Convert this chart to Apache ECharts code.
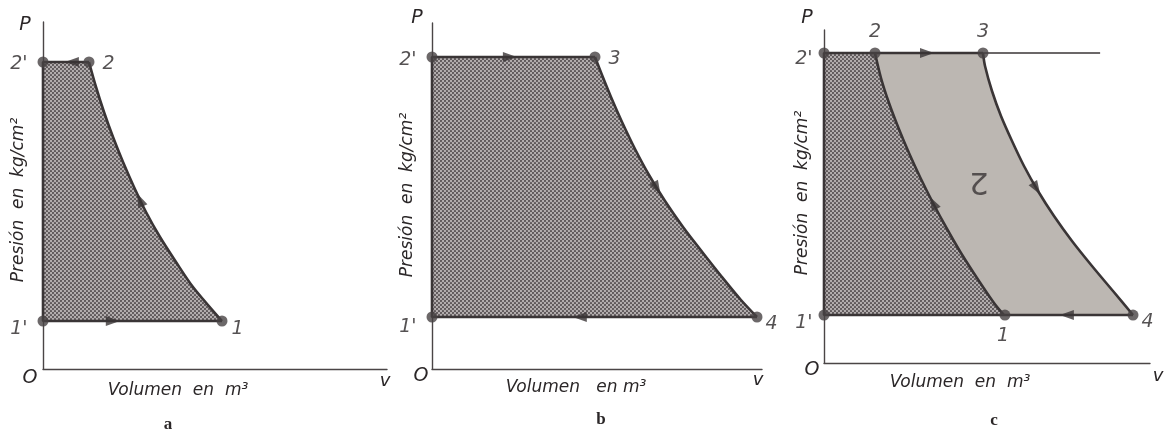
<!DOCTYPE html>
<html><head><meta charset="utf-8">
<script src="https://cdn.jsdelivr.net/npm/echarts@6/dist/echarts.min.js"></script>
<style>html,body{margin:0;padding:0;background:#fff}#c{width:1168px;height:433px}</style>
</head><body><div id="c"></div>
<script>
// ---------- data (arbitrary V / P units, axes 0..10) ----------
// Panel a: compression 1 -> 2
const curveA = [[1.337,8.847],[1.541,8.127],[1.773,7.406],[2.035,6.686],[2.326,5.965],[2.645,5.245],[2.994,4.524],[3.401,3.804],[3.866,3.084],[4.360,2.363],[5.203,1.383]];
const straightA = [[5.203,1.383],[0,1.383],[0,8.847],[1.337,8.847]];
const pointsA = [[0,8.847],[1.337,8.847],[5.203,1.383],[0,1.383]];
const labelsA = ["2'","2","1","1'"];
const arrowsA = [[0.84,8.847,90],[2.82,4.87,24],[2.03,1.383,-90]];

// Panel b: expansion 3 -> 4
const curveB = [[4.939,9.017],[5.152,8.497],[5.424,7.861],[5.758,7.139],[6.152,6.358],[6.576,5.607],[7.061,4.855],[7.606,4.104],[8.212,3.353],[8.788,2.659],[9.364,1.994],[9.848,1.503]];
const straightB = [[4.939,9.017],[0,9.017],[0,1.503],[9.848,1.503]];
const pointsB = [[0,9.017],[4.939,9.017],[9.848,1.503],[0,1.503]];
const labelsB = ["2'","3","4","1'"];
const arrowsB = [[2.36,9.017,-90],[6.82,5.22,210],[4.48,1.503,90]];

// Panel c: combined cycle
const curveC12 = [[1.564,9.309],[1.748,8.559],[1.994,7.808],[2.285,7.057],[2.607,6.306],[2.960,5.556],[3.344,4.805],[3.758,4.054],[4.202,3.303],[4.693,2.553],[5.215,1.802],[5.52,1.441]];
const curveC34 = [[4.877,9.309],[4.939,8.919],[5.153,8.168],[5.429,7.417],[5.767,6.667],[6.135,5.916],[6.564,5.165],[7.055,4.414],[7.607,3.664],[8.221,2.913],[8.865,2.162],[9.479,1.441]];
const straightC = [[4.877,9.309],[0,9.309],[0,1.441],[9.479,1.441]];
const extC = [[4.877,9.309],[8.47,9.309]];
const pointsC = [[0,9.309],[1.564,9.309],[4.877,9.309],[0,1.441],[5.55,1.441],[9.479,1.441]];
const labelsC = ["2'","2","3","1'","1","4"];
const arrowsC = [[3.16,9.309,-90],[6.52,5.24,212],[7.45,1.441,90],[3.344,4.805,28]];
const areaTextC = [[4.75,5.45]];

// ---------- styles ----------
const LINE = '#3a3536', PT = '#474243', TXT = '#2b2728';
const FONT = 'oblique 17px "DejaVu Sans"';
function halftone(){
  const c=document.createElement('canvas'); c.width=4; c.height=4;
  const g=c.getContext('2d');
  g.fillStyle='#b3aeae'; g.fillRect(0,0,4,4);
  g.fillStyle='#5a5456';
  g.beginPath(); g.arc(1,1,1.1,0,Math.PI*2); g.fill();
  g.beginPath(); g.arc(3,3,1.1,0,Math.PI*2); g.fill();
  return c;
}
const DOTS = {image: halftone(), repeat:'repeat'};
const LIGHT = '#bcb7b2';

const grids = [
  {left:43, top:22, width:344, height:347},
  {left:432, top:23, width:330, height:346},
  {left:824, top:30, width:326, height:333}
];
const axisCommon = {type:'value', min:0, max:10, axisTick:{show:false}, axisLabel:{show:false}, splitLine:{show:false},
  axisLine:{show:true, onZero:false, lineStyle:{color:'#4a4546', width:1.4}}};

function polygon(gi, pts, fill){
  return {type:'custom', xAxisIndex:gi, yAxisIndex:gi, z:1, silent:true, data:[0],
    renderItem:(p,api)=>({type:'polygon', shape:{points:pts.map(q=>api.coord(q))}, style:{fill:fill}})};
}
function curve(gi, pts){
  return {type:'custom', xAxisIndex:gi, yAxisIndex:gi, z:3, silent:true, data:[0],
    renderItem:(p,api)=>({type:'polyline', shape:{points:pts.map(q=>api.coord(q)), smooth:0.3},
      style:{stroke:LINE, lineWidth:2.6, fill:null, lineJoin:'round'}})};
}
function line(gi, pts, w){
  return {type:'line', xAxisIndex:gi, yAxisIndex:gi, z:3, data:pts, showSymbol:false,
    lineStyle:{color:LINE, width:w||2.6}, silent:true};
}
function arrows(gi, arr){
  return {type:'scatter', xAxisIndex:gi, yAxisIndex:gi, z:4, silent:true, symbol:'triangle', symbolSize:[10,14],
    itemStyle:{color:LINE},
    data:arr.map(a=>({value:[a[0],a[1]], symbolRotate:a[2]}))};
}
function points(gi, pts, names, posMap){
  return {type:'scatter', xAxisIndex:gi, yAxisIndex:gi, z:5, silent:true, symbolSize:11, itemStyle:{color:PT},
    data:pts.map((p,i)=>{const pm=posMap[names[i]]; return {value:p, label:{show:true, formatter:names[i], position:pm[0], offset:pm[1], distance:pm[2],
      fontSize:19, fontStyle:'oblique', fontFamily:'DejaVu Sans', color:TXT}};})};
}
const posA = {"2'":['left',[-2,2],8],"2":['right',[2,2],6],"1":['right',[0,8],4],"1'":['left',[-2,8],8]};
const posB = {"2'":['left',[-2,3],8],"3":['right',[2,2],6],"4":['right',[0,7],3],"1'":['left',[-2,10],8]};
const posC = {"2'":['left',[0,6],6],"2":['top',[0,-2],4],"3":['top',[0,-2],4],"1'":['left',[0,8],6],"1":['bottom',[-2,2],4],"4":['right',[0,7],3]};

const series = [
  polygon(0, straightA.slice(1).concat(curveA.slice(1)), DOTS),
  line(0, straightA), curve(0, curveA), arrows(0, arrowsA), points(0, pointsA, labelsA, posA),
  polygon(1, straightB.slice(0,3).concat([[9.848,1.503]]).concat(curveB.slice().reverse()), DOTS),
  line(1, straightB), curve(1, curveB), arrows(1, arrowsB), points(1, pointsB, labelsB, posB),
  polygon(2, [[0,1.441],[0,9.309]].concat(curveC12), DOTS),
  polygon(2, curveC12.concat(curveC34.slice().reverse()), LIGHT),
  line(2, extC, 1.3), line(2, straightC), curve(2, curveC12), curve(2, curveC34),
  arrows(2, arrowsC), points(2, pointsC, labelsC, posC),
  {type:'scatter', xAxisIndex:2, yAxisIndex:2, z:4, silent:true, symbolSize:1, itemStyle:{color:'rgba(0,0,0,0)'}, data:areaTextC,
   label:{show:true, position:'inside', formatter:'2', rotate:180, fontSize:31, fontWeight:'normal', fontFamily:'DejaVu Sans', color:'#3a3536'}}
];

function txt(x,y,t,font,extra){
  return Object.assign({type:'text', x:x, y:y, silent:true, style:{text:t, font:font||FONT, fill:TXT, textAlign:'center', textVerticalAlign:'middle'}}, extra||{});
}
const F19 = 'oblique 19px "DejaVu Sans"';
const graphic = [
  txt(25,25,'P',F19), txt(417,18,'P',F19), txt(807,18,'P',F19),
  txt(30,378,'O',F19), txt(421,376,'O',F19), txt(812,370,'O',F19),
  txt(385,381,'v','oblique 18px "DejaVu Sans"'), txt(758,380,'v','oblique 18px "DejaVu Sans"'), txt(1158,376,'v','oblique 18px "DejaVu Sans"'),
  txt(178,391,'Volumen  en  m³'), txt(576,388,'Volumen   en m³'), txt(960,383,'Volumen  en  m³'),
  txt(19,200,'Presión  en  kg/cm²',FONT,{rotation:Math.PI/2}),
  txt(408,195,'Presión  en  kg/cm²',FONT,{rotation:Math.PI/2}),
  txt(803,193,'Presión  en  kg/cm²',FONT,{rotation:Math.PI/2}),
  txt(168,425,'a','bold 17px "Liberation Serif"'), txt(601,420,'b','bold 17px "Liberation Serif"'), txt(994,421,'c','bold 17px "Liberation Serif"')
];

const chart = echarts.init(document.getElementById('c'), null, {renderer:'canvas'});
chart.setOption({
  animation:false, backgroundColor:'#ffffff',
  grid: grids,
  xAxis: grids.map((g,i)=>Object.assign({gridIndex:i}, axisCommon)),
  yAxis: grids.map((g,i)=>Object.assign({gridIndex:i}, axisCommon)),
  series: series,
  graphic: graphic
});
</script></body></html>
